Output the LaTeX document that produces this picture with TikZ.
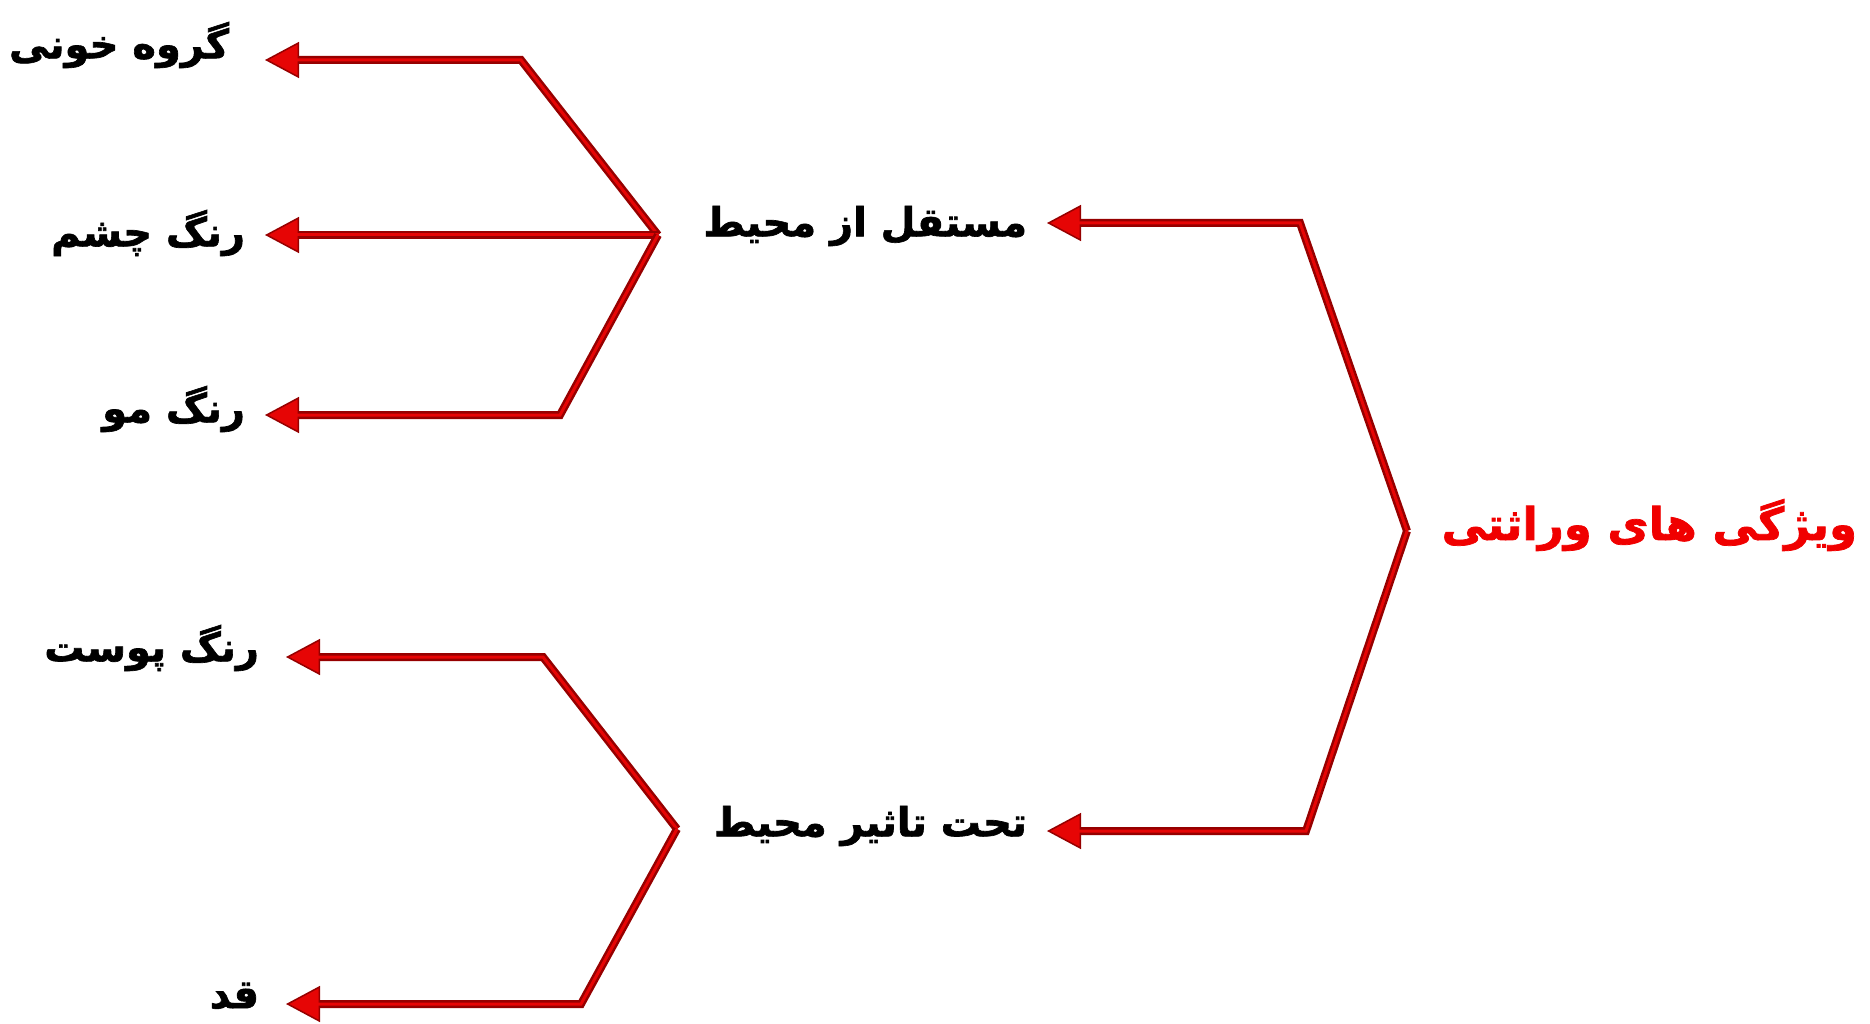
\documentclass[tikz,border=0pt]{standalone}
\usepackage{fontspec}
\newfontfamily\farsi[Script=Arabic, BoldFeatures={FakeBold=1.6}]{DejaVu Sans}
\TeXXeTstate=1
\usetikzlibrary{arrows.meta}

\definecolor{linkred}{RGB}{150,0,0}
\definecolor{tipred}{RGB}{230,5,5}
\definecolor{rootred}{RGB}{240,0,0}

\tikzset{
    branch/.style={line width=8pt, draw=linkred, line join=miter,
        -{Triangle[length=34pt, width=36pt, fill=tipred, line width=1.5pt]},
        postaction={draw=tipred, line width=3pt, shorten >=30pt, -}},
    label/.style={anchor=east, inner sep=0pt, outer xsep=20pt,
        font=\farsi\bfseries\fontsize{40}{46}\selectfont},
    rootlabel/.style={label, text=rootred, outer xsep=0pt,
        font=\farsi\bfseries\fontsize{45}{52}\selectfont},
}

\begin{document}
\begin{tikzpicture}[x=1pt, y=-1pt]
    \useasboundingbox (0,0) rectangle (1870,1024);

    % title and the two groups
    \node[rootlabel] (root) at (1857,525) {\beginR ویژگی های وراثتی\endR};
    \node[label] (free) at (1047,226) {\beginR مستقل از محیط\endR};
    \node[label] (env)  at (1047,826) {\beginR تحت تاثیر محیط\endR};

    % traits
    \node[label, outer xsep=36pt] (blood) at (265,45) {\beginR گروه خونی\endR};
    \node[label] (eye)    at (265,233) {\beginR رنگ چشم\endR};
    \node[label] (hair)   at (265,409) {\beginR رنگ مو\endR};
    \node[label, outer xsep=27pt] (skin) at (286,648) {\beginR رنگ پوست\endR};
    \node[label, outer xsep=27pt] (tall) at (286,996) {\beginR قد\endR};

    % bends of the brackets
    \coordinate (rootfork) at (1407,531);
    \coordinate (freebend) at (1300,223);
    \coordinate (envbend)  at (1306,831);
    \coordinate (freefork) at (658,235);
    \coordinate (bloodbend) at (521,60);
    \coordinate (hairbend)  at (560,415);
    \coordinate (envfork)  at (677,829);
    \coordinate (skinbend) at (543,657);
    \coordinate (tallbend) at (581,1004);

    \draw[branch] (rootfork) -- (freebend) -- (freebend -| free.east);
    \draw[branch] (rootfork) -- (envbend) -- (envbend -| env.east);

    \draw[branch] (freefork) -- (bloodbend) -- (bloodbend -| blood.east);
    \draw[branch] (freefork) -- (freefork -| eye.east);
    \draw[branch] (freefork) -- (hairbend) -- (hairbend -| hair.east);

    \draw[branch] (envfork) -- (skinbend) -- (skinbend -| skin.east);
    \draw[branch] (envfork) -- (tallbend) -- (tallbend -| tall.east);
\end{tikzpicture}
\end{document}
